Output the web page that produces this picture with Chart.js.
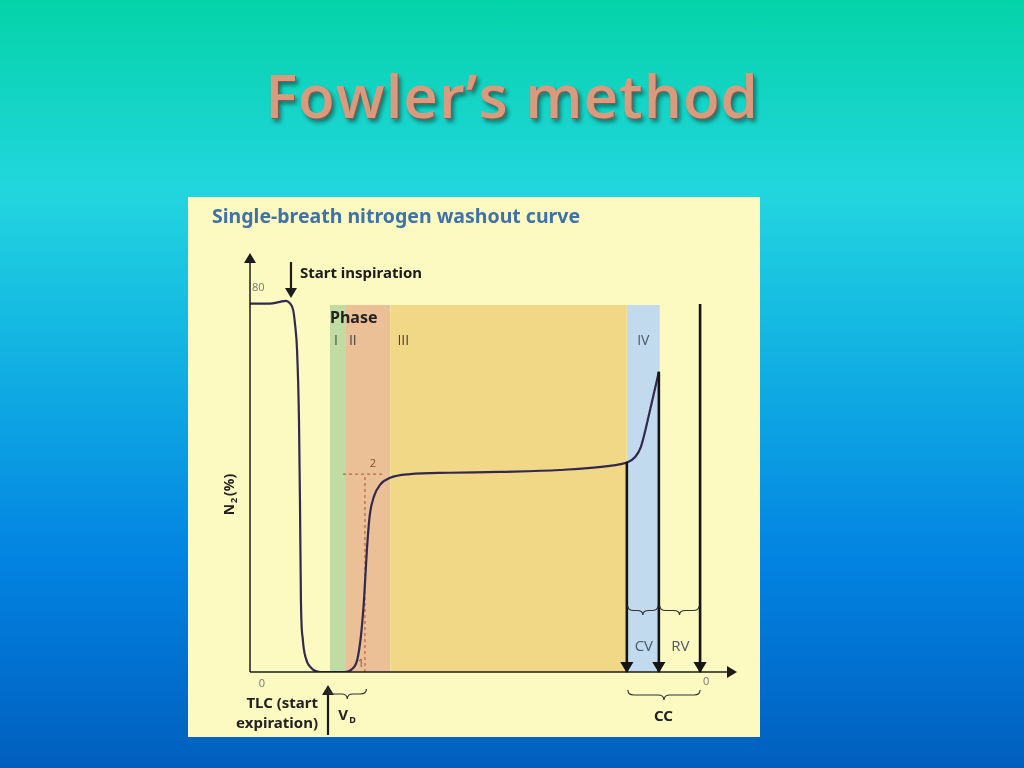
<!DOCTYPE html>
<html>
<head>
<meta charset="utf-8">
<script src="https://cdn.jsdelivr.net/npm/chart.js@4.4.1/dist/chart.umd.min.js"></script>
<style>
  html, body { margin: 0; padding: 0; }
  body {
    width: 1024px; height: 768px; overflow: hidden; position: relative;
    background: linear-gradient(to bottom, #04d3a8 0%, #22d6df 25%, #0ea8e2 52%, #0283e2 73%, #005fbe 100%);
    font-family: "Open Sans", "Noto Sans", sans-serif;
  }
  h1 {
    position: absolute; left: 0; width: 1024px; top: 54px; margin: 0;
    text-align: center; font-size: 60px; font-weight: 600; letter-spacing: 1px;
    color: #d99a7d;
    text-shadow: 1px 1px 0 #8a5a48, 3px 4px 4px rgba(0,0,0,0.45);
  }
  #panel {
    position: absolute; left: 188px; top: 197px; width: 572px; height: 540px;
    background: #fcf9c1;
  }
</style>
</head>
<body>
<h1>Fowler’s method</h1>
<div id="panel"><canvas id="washout" width="572" height="540"></canvas></div>
<script>
// Courbe de lavage d'azote (volume expiré en unités arbitraires, N2 en %)
const curveX = [0, 4.1, 6.2, 7.4, 8.2, 8.9, 9.3, 9.7, 10.1, 10.3, 10.5, 10.9, 11.5, 12.6, 14.4,
                19.6, 21.0, 22.1, 22.9, 23.5, 24.1, 24.7, 25.6, 26.8, 28.9, 33.0, 41.2, 51.5, 63.9,
                74.2, 77.9, 79.4, 80.6, 82.5, 84.3];
const curveY = [79.5, 79.5, 79.9, 80.1, 79.6, 78.1, 74.9, 69.5, 54.4, 37.1, 15.5, 6.9, 3.0, 0.9, 0,
                0, 0.6, 2.6, 8.0, 15.5, 26.3, 33.9, 38.0, 40.4, 41.9, 42.7, 43.0, 43.2, 43.6,
                44.5, 45.3, 46.4, 48.6, 56.6, 64.8];

// Phases I..IV
const phaseLabels = ['I', 'II', 'III', 'IV'];
const phaseEdges = [16.5, 19.6, 28.9, 77.7, 84.5];
const phaseTop = 79.2;
const phaseColors = ['#c0dca2', '#ebc096', '#f0d886', '#c2daee'];

// Fleches verticales (debut CV, fin CV, fin RV)
const arrowX = [77.7, 84.3, 92.8];
const arrowTop = [45.3, 64.8, 79.4];

// Construction de V_D (lignes pointillees)
const dashX = [19.2, 27.8];
const dashY = 42.7;
const dashVX = 23.7;

const yTicks = [0, 80];

const datasets = [];
phaseLabels.forEach(function(lab, i) {
    datasets.push({
        label: 'Phase ' + lab,
        data: [{x: phaseEdges[i], y: phaseTop}, {x: phaseEdges[i + 1], y: phaseTop}],
        fill: 'origin',
        backgroundColor: phaseColors[i],
        borderWidth: 0,
        pointRadius: 0,
        order: 10
    });
});
datasets.push({
    label: 'N2',
    data: curveX.map((x, i) => ({x: x, y: curveY[i]})),
    borderColor: '#33294f',
    borderWidth: 2.2,
    pointRadius: 0,
    cubicInterpolationMode: 'monotone',
    fill: false,
    order: 1
});
datasets.push({
    label: 'dash h',
    data: [{x: dashX[0], y: dashY}, {x: dashX[1], y: dashY}],
    borderColor: '#b8623e', borderWidth: 1.2, borderDash: [3, 3], pointRadius: 0, order: 2
});
datasets.push({
    label: 'dash v',
    data: [{x: dashVX, y: 0}, {x: dashVX, y: dashY}],
    borderColor: '#b8623e', borderWidth: 1.2, borderDash: [3, 3], pointRadius: 0, order: 2
});
arrowX.forEach(function(x, i) {
    datasets.push({
        label: 'arrow' + i,
        data: [{x: x, y: 0}, {x: x, y: arrowTop[i]}],
        borderColor: '#141414', borderWidth: 2.6, pointRadius: 0, order: 0
    });
});

function arrowHead(ctx, x, y, dir, s) {
    ctx.beginPath();
    if (dir === 'down') { ctx.moveTo(x, y); ctx.lineTo(x - s * 0.6, y - s); ctx.lineTo(x + s * 0.6, y - s); }
    if (dir === 'up') { ctx.moveTo(x, y); ctx.lineTo(x - s * 0.6, y + s); ctx.lineTo(x + s * 0.6, y + s); }
    if (dir === 'right') { ctx.moveTo(x, y); ctx.lineTo(x - s, y - s * 0.6); ctx.lineTo(x - s, y + s * 0.6); }
    ctx.closePath();
    ctx.fill();
}

function brace(ctx, x1, x2, y, h) {
    const xm = (x1 + x2) / 2, q = Math.min(6, (x2 - x1) / 4), ym = y + h / 2;
    ctx.beginPath();
    ctx.moveTo(x1, y);
    ctx.quadraticCurveTo(x1, ym, x1 + q, ym);
    ctx.lineTo(xm - q, ym);
    ctx.quadraticCurveTo(xm, ym, xm, y + h);
    ctx.quadraticCurveTo(xm, ym, xm + q, ym);
    ctx.lineTo(x2 - q, ym);
    ctx.quadraticCurveTo(x2, ym, x2, y);
    ctx.stroke();
}

const annotations = {
    id: 'annotations',
    afterDatasetsDraw(chart) {
        const ctx = chart.ctx;
        const xs = chart.scales.x, ys = chart.scales.y;
        const px = v => xs.getPixelForValue(v);
        const py = v => ys.getPixelForValue(v);
        const F = '"Noto Sans", "Open Sans", sans-serif';
        const R = '"Open Sans", "Noto Sans", sans-serif';
        ctx.save();

        // axes
        ctx.strokeStyle = '#1c1c1c'; ctx.fillStyle = '#1c1c1c'; ctx.lineWidth = 1.5;
        ctx.beginPath();
        ctx.moveTo(px(0), py(0)); ctx.lineTo(px(0), ys.top + 4);
        ctx.moveTo(px(0), py(0)); ctx.lineTo(xs.right - 4, py(0));
        ctx.stroke();
        arrowHead(ctx, px(0), ys.top - 2, 'up', 10);
        arrowHead(ctx, xs.right + 2, py(0), 'right', 10);

        // pointes des fleches verticales
        ctx.fillStyle = '#141414';
        arrowX.forEach(x => arrowHead(ctx, px(x), py(0) + 1, 'down', 11));

        // titre
        ctx.fillStyle = '#3f72a8';
        ctx.font = 'bold 19.5px ' + F;
        ctx.textBaseline = 'middle'; ctx.textAlign = 'left';
        ctx.fillText('Single-breath nitrogen washout curve', 24, 20);

        // ticks
        ctx.fillStyle = '#777';
        ctx.font = '11px ' + R;
        ctx.fillText(String(yTicks[1]), px(0) + 2, py(yTicks[1]) - 13);
        ctx.textAlign = 'center';
        ctx.fillText(String(yTicks[0]), px(0) + 12, py(0) + 12);
        ctx.fillText('0', px(arrowX[2]) + 6, py(0) + 10);

        // Start inspiration
        ctx.fillStyle = '#1c1c1c'; ctx.strokeStyle = '#1c1c1c'; ctx.lineWidth = 2.2;
        const sx = px(8.45);
        ctx.beginPath(); ctx.moveTo(sx, py(0) - 410); ctx.lineTo(sx, py(0) - 382); ctx.stroke();
        arrowHead(ctx, sx, py(0) - 374, 'down', 10);
        ctx.textAlign = 'left';
        ctx.font = 'bold 15px ' + F;
        ctx.fillText('Start inspiration', sx + 9, py(0) - 398);

        // Phase labels
        ctx.font = 'bold 16px ' + F;
        ctx.fillStyle = '#222';
        ctx.fillText('Phase', px(phaseEdges[0]), py(phaseTop) + 13);
        ctx.font = '14px ' + R;
        ctx.textAlign = 'center';
        const labCenters = [px(16.9) + 4, px(21.2), px(31.6), px(81.1)];
        const labColors = ['#3f5a35', '#444', '#444', '#4a5868'];
        phaseLabels.forEach(function(l, i) {
            ctx.fillStyle = labColors[i];
            ctx.fillText(l, labCenters[i], py(phaseTop) + 36);
        });

        // points 1 et 2
        ctx.fillStyle = '#8a4a2a';
        ctx.font = '11px ' + R;
        ctx.fillText('1', px(dashVX) - 4, py(0) - 8);
        ctx.fillText('2', px(dashVX) + 8, py(dashY) - 10);

        // N2 (%)
        ctx.save();
        ctx.translate(px(0) - 20, py(39));
        ctx.rotate(-Math.PI / 2);
        ctx.fillStyle = '#222';
        ctx.textAlign = 'left';
        ctx.font = 'bold 14px ' + F;
        const w1 = ctx.measureText('N').width;
        ctx.fillText('N', -24, 0);
        ctx.font = 'bold 9px ' + F;
        ctx.fillText('2', -24 + w1 + 1, 4);
        ctx.font = 'bold 14px ' + F;
        ctx.fillText('(%)', -24 + w1 + 8, 0);
        ctx.restore();

        // TLC
        ctx.fillStyle = '#222';
        ctx.font = 'bold 15px ' + F;
        ctx.textAlign = 'right';
        ctx.fillText('TLC (start', px(0) + 68, py(0) + 32);
        ctx.fillText('expiration)', px(0) + 68, py(0) + 52);
        ctx.strokeStyle = '#1c1c1c'; ctx.lineWidth = 2.2;
        const tx = px(0) + 78;
        ctx.beginPath(); ctx.moveTo(tx, py(0) + 63); ctx.lineTo(tx, py(0) + 22); ctx.stroke();
        arrowHead(ctx, tx, py(0) + 13, 'up', 10);

        // accolades
        ctx.strokeStyle = '#333'; ctx.lineWidth = 1.2;
        brace(ctx, px(16.1), px(24.0), py(0) + 17, 10);
        brace(ctx, px(arrowX[0]) + 1, px(arrowX[1]) - 1, py(0) - 66, 9);
        brace(ctx, px(arrowX[1]) + 1, px(arrowX[2]) - 1, py(0) - 66, 9);
        brace(ctx, px(arrowX[0]) + 1, px(arrowX[2]), py(0) + 18, 10);

        // V_D
        ctx.textAlign = 'left';
        ctx.fillStyle = '#222';
        ctx.font = 'bold 15px ' + F;
        ctx.fillText('V', px(18.2), py(0) + 44);
        ctx.font = 'bold 9px ' + F;
        ctx.fillText('D', px(18.2) + 11, py(0) + 48);

        // CV, RV, CC
        ctx.textAlign = 'center';
        ctx.font = '15px ' + R;
        ctx.fillStyle = '#4a5868';
        ctx.fillText('CV', (px(arrowX[0]) + px(arrowX[1])) / 2 + 1, py(0) - 25);
        ctx.fillText('RV', (px(arrowX[1]) + px(arrowX[2])) / 2 + 1, py(0) - 25);
        ctx.fillStyle = '#222';
        ctx.font = 'bold 15px ' + F;
        ctx.fillText('CC', (px(arrowX[0]) + px(arrowX[2])) / 2, py(0) + 45);

        ctx.restore();
    }
};

new Chart(document.getElementById('washout').getContext('2d'), {
    type: 'line',
    data: { datasets: datasets },
    options: {
        responsive: false,
        animation: false,
        layout: { padding: { left: 62, right: 25, top: 58, bottom: 65 } },
        plugins: {
            legend: { display: false },
            tooltip: { enabled: false }
        },
        scales: {
            x: { type: 'linear', min: 0, max: 100, display: false },
            y: { min: 0, max: 90, display: false }
        }
    },
    plugins: [annotations]
});
</script>
</body>
</html>
